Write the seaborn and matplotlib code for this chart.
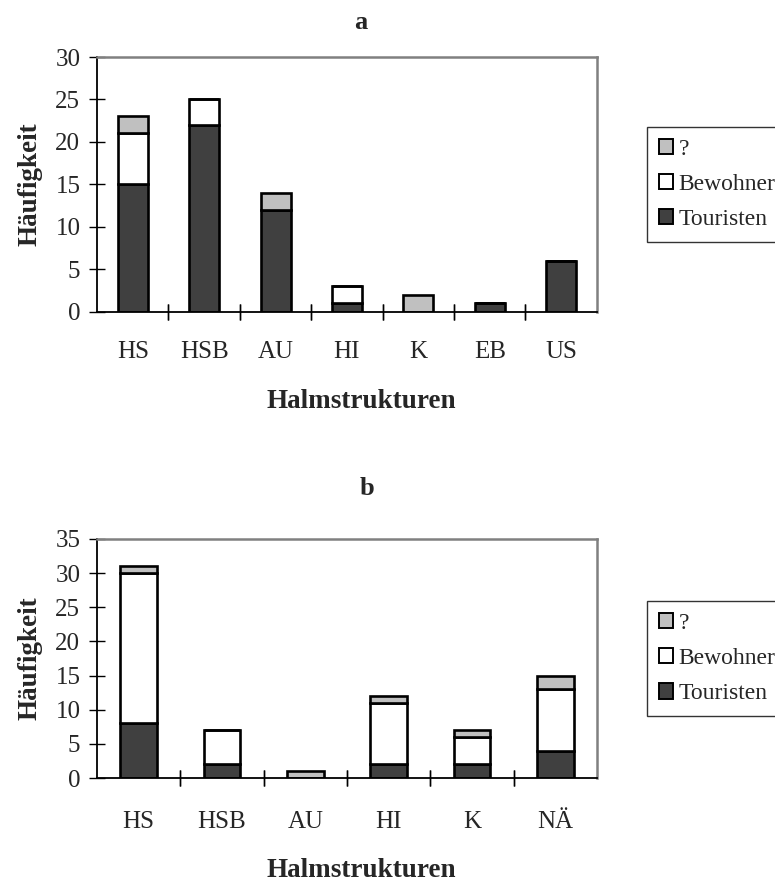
import matplotlib
matplotlib.use("Agg")
import matplotlib.pyplot as plt
import seaborn as sns
import pandas as pd
import numpy as np
from matplotlib.patches import Patch

sns.set_style("white")
plt.rcParams['font.family'] = ['Liberation Serif', 'DejaVu Serif']

cats_a = ["HS", "HSB", "AU", "HI", "K", "EB", "US"]
touristen_a = [15, 22, 12, 1, 0, 1, 6]
bewohner_a = [6, 3, 0, 2, 0, 0, 0]
unklar_a = [2, 0, 2, 0, 2, 0, 0]

cats_b = ["HS", "HSB", "AU", "HI", "K", "NÄ"]
touristen_b = [8, 2, 0, 2, 2, 4]
bewohner_b = [22, 5, 0, 9, 4, 9]
unklar_b = [1, 0, 1, 1, 1, 2]

series_names = ["Touristen", "Bewohner", "?"]
colors = {"Touristen": "#404040", "Bewohner": "#ffffff", "?": "#c0c0c0"}

fig = plt.figure(figsize=(7.75, 8.81), dpi=100)
ax_a = fig.add_axes([0.1252, 0.6459, 0.645, 0.2894])
ax_b = fig.add_axes([0.1252, 0.1169, 0.645, 0.2713])

def draw(ax, cats, t, bw, q, ymax, ystep, title, width, title_xy, xlab_y, xpad):
    df = pd.DataFrame({"cat": cats, "Touristen": t, "Bewohner": bw, "?": q})
    bottom = np.zeros(len(cats))
    for name in series_names:
        vals = df[name].values
        sns.barplot(x=df["cat"], y=df[name], ax=ax, color=colors[name],
                    bottom=bottom, width=width, edgecolor="black",
                    linewidth=1.9, saturation=1)
        bottom = bottom + vals
    n = len(cats)
    ax.set_xlim(-0.5, n - 0.5)
    ax.set_ylim(0, ymax)
    ax.set_yticks(np.arange(0, ymax + 1, ystep))
    ax.set_xticks(np.arange(n))
    ax.set_xticklabels(cats)
    ax.tick_params(axis="x", length=0, labelsize=18, pad=xpad)
    ax.tick_params(axis="y", which="major", direction="inout", length=12,
                   width=1, color="black", labelsize=18, left=True, pad=6)
    for xb in np.arange(0.5, n - 0.5, 1):
        ax.plot([xb, xb], [0, 0], marker="|", markersize=12, color="black",
                markeredgewidth=1, clip_on=False)
    ax.set_xlabel("Halmstrukturen", fontsize=19.5, fontweight="bold",
                  va="center", ha="center")
    ax.xaxis.set_label_coords(0.528, xlab_y)
    ax.set_ylabel("Häufigkeit", fontsize=19.5, fontweight="bold",
                  va="center", ha="center")
    ax.yaxis.set_label_coords(-0.134, 0.5)
    ax.text(title_xy[0], title_xy[1], title, transform=ax.transAxes,
            fontsize=19, fontweight="bold", ha="center", va="center")
    for s in ["left", "bottom"]:
        ax.spines[s].set_color("black")
        ax.spines[s].set_linewidth(1.3)
    for s in ["top", "right"]:
        ax.spines[s].set_color("#808080")
        ax.spines[s].set_linewidth(1.8)
    handles = [Patch(facecolor=colors[n_], edgecolor="black", linewidth=1.4, label=n_)
               for n_ in ["?", "Bewohner", "Touristen"]]
    leg = ax.legend(handles=handles, loc="center left", bbox_to_anchor=(1.1, 0.5),
                    frameon=True, fancybox=False, fontsize=17, handlelength=0.62,
                    handleheight=0.62, handletextpad=0.22, borderpad=0.5,
                    labelspacing=0.6, borderaxespad=0)
    leg.get_frame().set_edgecolor("black")
    leg.get_frame().set_linewidth(1)

draw(ax_a, cats_a, touristen_a, bewohner_a, unklar_a, 30, 5, "a", 0.42,
     (0.528, 1.137), -0.353, 21)
draw(ax_b, cats_b, touristen_b, bewohner_b, unklar_b, 35, 5, "b", 0.44,
     (0.54, 1.213), -0.385, 24)

fig.savefig("out.png", dpi=100)
